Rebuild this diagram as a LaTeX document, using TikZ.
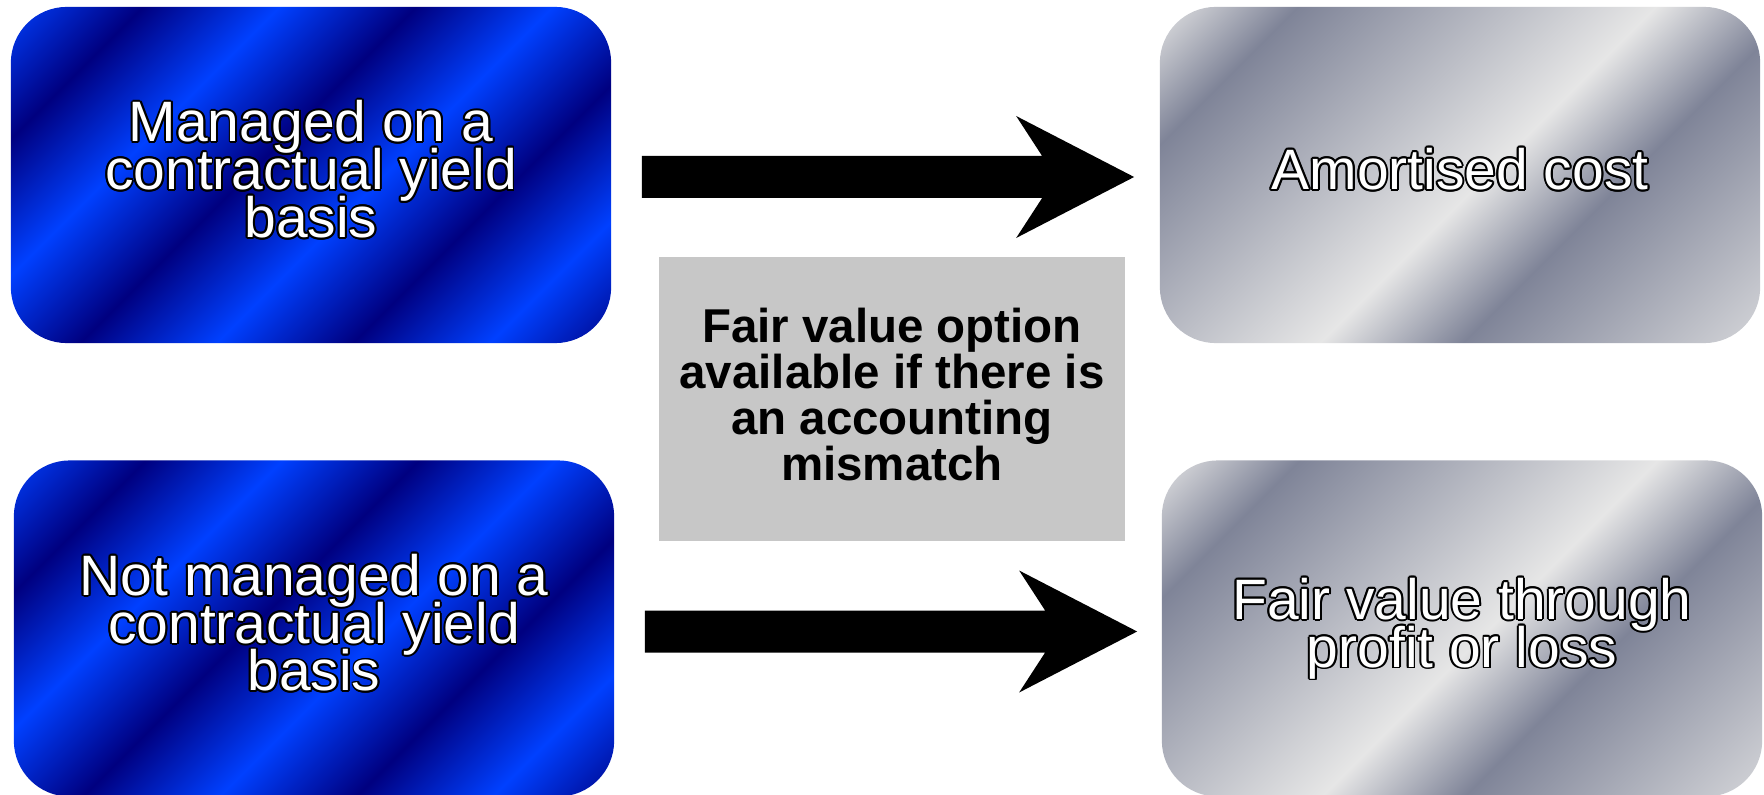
\documentclass[tikz,border=0pt]{standalone}
\usepackage{fontspec}
\setmainfont{Liberation Sans}
\usetikzlibrary{calc}
\definecolor{bdark}{RGB}{0,0,128}
\definecolor{bbright}{RGB}{0,64,255}
\definecolor{sdark}{RGB}{127,132,152}
\definecolor{slight}{RGB}{230,230,230}
\definecolor{midgray}{RGB}{199,199,199}
\pgfdeclarehorizontalshading{bluestripes}{100bp}{color(0bp)=(bdark); color(19.2bp)=(bdark); color(26.1bp)=(bbright); color(33bp)=(bdark); color(39.9bp)=(bbright); color(46.8bp)=(bdark); color(53.7bp)=(bbright); color(60.6bp)=(bdark); color(67.5bp)=(bbright); color(74.4bp)=(bdark); color(81.3bp)=(bbright); color(100bp)=(bbright)}
\pgfdeclarehorizontalshading{silverstripes}{100bp}{color(0bp)=(slight); color(26.1bp)=(slight); color(33.3bp)=(sdark); color(51.4bp)=(slight); color(58.6bp)=(sdark); color(76.7bp)=(slight); color(100bp)=(slight)}
\newbox\olbox
\newcommand{\linestack}[1]{\vbox{\lineskiplimit=-\maxdimen\lineskip=0pt\halign{\hfil##\hfil\vrule width 0pt depth 0.212em\cr#1\crcr}}}
\newcommand{\olcopy}[2]{\rlap{\kern#1\raise#2\copy\olbox}}
\newcommand{\outlined}[1]{\setbox\olbox=\hbox{\linestack{#1}}\leavevmode
  \rlap{\color{black}%
    \olcopy{0.55pt}{0pt}\olcopy{0.48pt}{0.28pt}\olcopy{0.28pt}{0.48pt}\olcopy{0pt}{0.55pt}%
    \olcopy{-0.28pt}{0.48pt}\olcopy{-0.48pt}{0.28pt}\olcopy{-0.55pt}{0pt}\olcopy{-0.48pt}{-0.28pt}%
    \olcopy{-0.28pt}{-0.48pt}\olcopy{0pt}{-0.55pt}\olcopy{0.28pt}{-0.48pt}\olcopy{0.48pt}{-0.28pt}}%
  {\color{white}\copy\olbox}}
\tikzset{
  stripebox/.style={rounded corners=0.56cm, minimum width=6cm, minimum height=3.36cm,
    inner sep=0pt, font=\fontsize{16.2pt}{13.6pt}\selectfont,
    path picture={\begin{scope}[transform canvas={rotate around={-45:(path picture bounding box.center)}}]
      \shade[sharp corners, shading=#1] ($(path picture bounding box.center)+(-350,-500)$) rectangle ($(path picture bounding box.center)+(350,500)$);
    \end{scope}}},
  bluebox/.style={stripebox=bluestripes},
  silverbox/.style={stripebox=silverstripes},
  notebox/.style={fill=midgray, minimum width=4.66cm, minimum height=2.84cm, inner sep=0pt,
    font=\fontsize{13.5pt}{13.1pt}\selectfont\bfseries},
  blockarrow/.style={fill=black}
}
\newcommand{\blockarrow}[2]{%
  \fill[blockarrow] ($(#1)+(0,-21)$) -- ($(#2)+(-92,-21)$) -- ($(#2)+(-118,-61)$) -- (#2)
    -- ($(#2)+(-118,61)$) -- ($(#2)+(-92,21)$) -- ($(#1)+(0,21)$) -- cycle;}
\begin{document}
\begin{tikzpicture}[x=0.01cm, y=-0.01cm]
\fill[white] (0,0) rectangle (1764,794);
\useasboundingbox (0,0) rectangle (1764,794);
\node[bluebox] (tl) at (311,175) {\outlined{Managed on a\cr contractual yield\cr basis}};
\node[bluebox] (bl) at (314,628.5) {\outlined{Not managed on a\cr contractual yield\cr basis}};
\node[silverbox] (tr) at (1460,175) {\outlined{Amortised cost}};
\node[silverbox] (br) at (1462,628.5) {\outlined{Fair value through\cr profit or loss}};
\node[notebox] (mid) at (892,399) {\linestack{Fair value option\cr available if there is\cr an accounting\cr mismatch}};
\coordinate (a1s) at ($(tl.east)+(30,2)$);
\coordinate (a1t) at ($(tr.west)+(-25,2)$);
\coordinate (a2s) at ($(bl.east)+(30,3)$);
\coordinate (a2t) at ($(br.west)+(-24,3)$);
\blockarrow{a1s}{a1t}
\blockarrow{a2s}{a2t}
\end{tikzpicture}
\end{document}
